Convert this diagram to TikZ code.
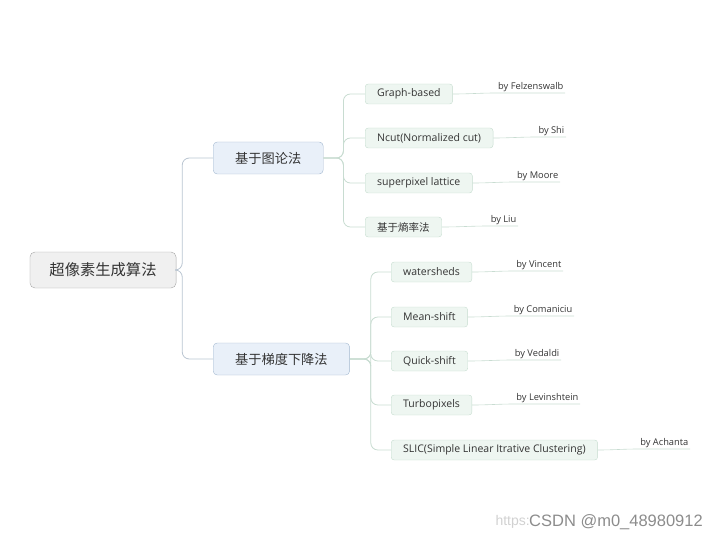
\documentclass[tikz,border=0pt]{standalone}
\usepackage{fontspec}
\setmainfont{Open Sans}
\newfontfamily\cjk{Noto Sans CJK SC}
\newfontfamily\wmfont{Liberation Sans}
\usetikzlibrary{positioning,calc}
\definecolor{inkgray}{HTML}{333333}
\definecolor{rootfill}{HTML}{F0F0F0}
\definecolor{rootdraw}{HTML}{A8A8A8}
\definecolor{branchfill}{HTML}{E9F0F9}
\definecolor{branchdraw}{HTML}{A3B8D0}
\definecolor{leaffill}{HTML}{EEF6F1}
\definecolor{leafdraw}{HTML}{C6DDCF}
\definecolor{rootwire}{HTML}{B9C5D1}
\definecolor{leafwire}{HTML}{C8DCD1}
\tikzset{
  rootbox/.style={draw=rootdraw, fill=rootfill, rounded corners=5pt, text=inkgray,
    minimum height=36pt, inner xsep=19.5pt, font=\cjk\fontsize{15.3}{17}\selectfont},
  branchbox/.style={draw=branchdraw, fill=branchfill, rounded corners=4pt, text=inkgray,
    minimum height=32pt, inner xsep=22pt, font=\cjk\fontsize{13.2}{15}\selectfont},
  leafbox/.style={draw=leafdraw, fill=leaffill, rounded corners=3pt, text=inkgray,
    minimum height=20pt, inner xsep=12pt, inner ysep=0pt, font=\fontsize{10.5}{12}\selectfont},
  bytag/.style={text=inkgray, inner sep=1.5pt, font=\fontsize{9.3}{11}\selectfont},
  rootline/.style={draw=rootwire, line width=0.8pt, rounded corners=7pt},
  leafline/.style={draw=leafwire, line width=0.8pt, rounded corners=7pt},
}
\begin{document}
\begin{tikzpicture}[x=1pt,y=-1pt]
\useasboundingbox (0,0) rectangle (720,540);
% root and the two methods
\node[rootbox] (root) at (103,270) {超像素生成算法};
\node[branchbox, anchor=west] (graph) at (213,158) {基于图论法};
\node[branchbox, anchor=west] (grad) at (213,359) {基于梯度下降法};
\draw[rootline] (root.east) -- ++(6,0) |- (graph.west);
\draw[rootline] (root.east) -- ++(6,0) |- (grad.west);
% graph based methods
\node[leafbox, anchor=west] (gbased) at (365,94) {Graph-based};
\node[leafbox, anchor=west] (ncut) at (365,138) {Ncut(Normalized cut)};
\node[leafbox, anchor=west] (lattice) at (365,183) {superpixel lattice};
\node[leafbox, anchor=west] (entropy) at (365,227) {\cjk 基于熵率法};
\foreach \leaf in {gbased,ncut,lattice,entropy}
  \draw[leafline] (graph.east) -- ++(20,0) |- (\leaf.west);
\node[bytag, anchor=south east] (felz) at (565,93) {by Felzenswalb};
\node[bytag, anchor=south east] (shi) at (566,137) {by Shi};
\node[bytag, anchor=south east] (moore) at (560,182) {by Moore};
\node[bytag, anchor=south east] (liu) at (518,226) {by Liu};
% gradient based methods
\node[leafbox, anchor=west] (water) at (391,272) {watersheds};
\node[leafbox, anchor=west] (mean) at (391,317) {Mean-shift};
\node[leafbox, anchor=west] (quick) at (391,361) {Quick-shift};
\node[leafbox, anchor=west] (turbo) at (391,405) {Turbopixels};
\node[leafbox, anchor=west] (slic) at (391,450) {SLIC(Simple Linear Itrative Clustering)};
\foreach \leaf in {water,mean,quick,turbo,slic}
  \draw[leafline] (grad.east) -- ++(21,0) |- (\leaf.west);
\node[bytag, anchor=south east] (vinc) at (563,271) {by Vincent};
\node[bytag, anchor=south east] (coma) at (574,316) {by Comaniciu};
\node[bytag, anchor=south east] (veda) at (561,360) {by Vedaldi};
\node[bytag, anchor=south east] (levi) at (580,404) {by Levinshtein};
\node[bytag, anchor=south east] (acha) at (690,449) {by Achanta};
% authors
\foreach \leaf/\who in {gbased/felz,ncut/shi,lattice/moore,entropy/liu,
    water/vinc,mean/coma,quick/veda,turbo/levi,slic/acha}
  \draw[leafwire, line width=0.6pt] (\leaf.east) to[out=0,in=180] (\who.south west) -- (\who.south east);
% watermark
\node[anchor=east, text=black!18, inner sep=0pt, font=\wmfont\fontsize{14}{15}\selectfont] (wmurl) at (530,522) {https:};
\node[anchor=west, text=black!45, inner sep=0pt, font=\wmfont\fontsize{16.5}{18}\selectfont] (wmark) at (529,522) {CSDN @m0\_48980912};
\end{tikzpicture}
\end{document}
